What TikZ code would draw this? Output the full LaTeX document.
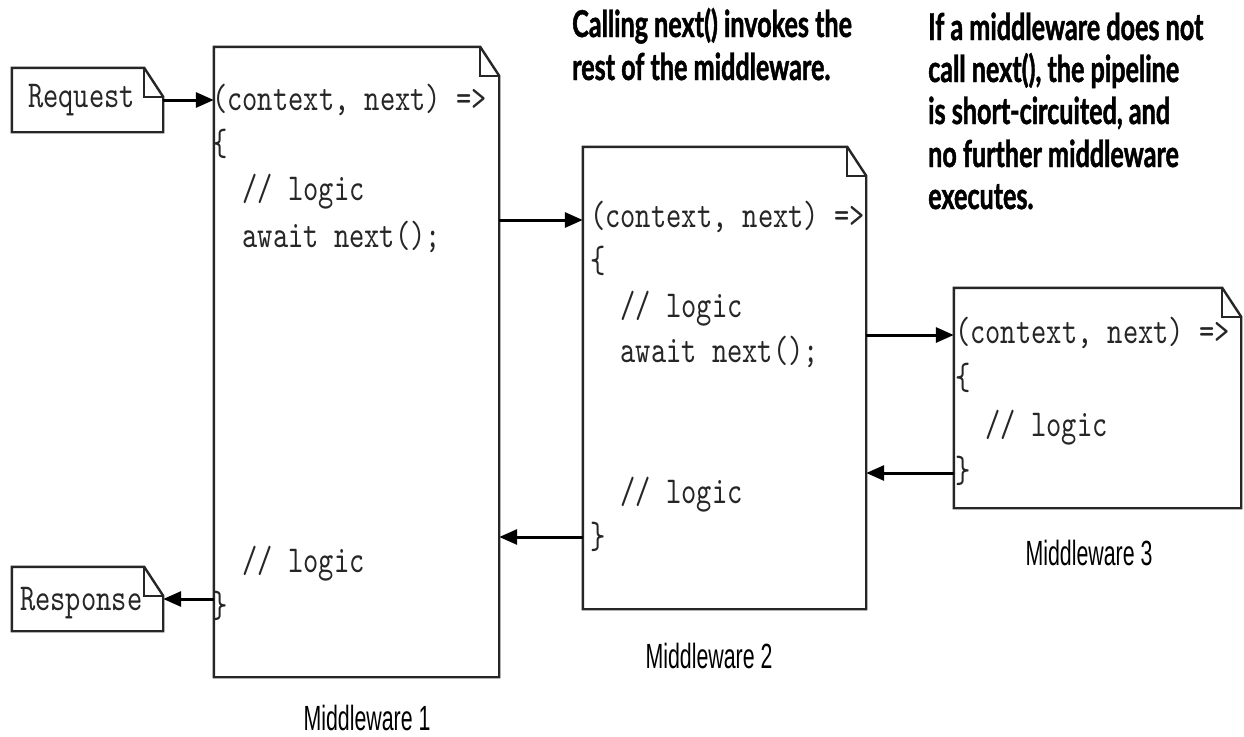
\documentclass[tikz,border=0pt]{standalone}
\usepackage{fontspec}
\usetikzlibrary{arrows.meta}
\newfontfamily\codefont{lmmono10-regular.otf}[FakeStretch=0.765]
\newfontfamily\labfont{Liberation Sans}[FakeStretch=0.61]
\newfontfamily\notefont{Lato}[FakeStretch=0.68,FakeBold=1.2]
\newcommand\docoutline[1]{%
  \draw[boxline] (#1.south west) -- (#1.north west) -- ([xshift=-19pt]#1.north east)
    -- ([yshift=-29pt]#1.north east) -- (#1.south east) -- cycle;
  \draw[boxline] ([xshift=-19pt]#1.north east) |- ([yshift=-29pt]#1.north east);}
\tikzset{
  boxline/.style={line width=2.4pt, line join=miter, draw=black!85},
  arr/.style={line width=3pt, -{Triangle[length=18pt,width=15pt]}},
  code/.style={font=\codefont\fontsize{38}{38}\selectfont, inner sep=0pt, anchor=base west, text=black!85},
  lab/.style={font=\labfont\fontsize{35}{35}\selectfont, inner sep=0pt, anchor=base},
  note/.style={font=\notefont\bfseries\fontsize{37}{37}\selectfont, inner sep=0pt, anchor=base west},
  doc/.style={rectangle, inner sep=0pt, draw=none}
}
\begin{document}
\begin{tikzpicture}[x=1pt,y=-1pt]
\useasboundingbox (0,0) rectangle (1244,736);
\fill[white] (0,0) rectangle (1244,736);
% document boxes
\node[doc, minimum width=151pt, minimum height=64pt] (req) at (87.5,100) {};
\node[doc, minimum width=151pt, minimum height=64pt] (resp) at (87.5,599) {};
\node[doc, minimum width=285pt, minimum height=630pt] (m1) at (356.5,362) {};
\node[doc, minimum width=283pt, minimum height=462pt] (m2) at (724.5,378) {};
\node[doc, minimum width=287pt, minimum height=220pt] (m3) at (1097.5,398) {};
\docoutline{req}
\docoutline{resp}
\docoutline{m1}
\docoutline{m2}
\docoutline{m3}
% texts in small boxes
\node[code] (reqt) at (28,107) {Request};
\node[code] (respt) at (20,610) {Response};
% middleware 1 code
\node[code] (a1) at (212,110) {(context, next) =>};
\node[code] (a2) at (212,155) {\{};
\node[code] (a3) at (242.4,200) {// logic};
\node[code] (a4) at (242.4,247) {await next();};
\node[code] (a5) at (242.4,572) {// logic};
\node[code] (a6) at (212,617) {\}};
% middleware 2 code
\node[code] (b1) at (590,227) {(context, next) =>};
\node[code] (b2) at (590,272) {\{};
\node[code] (b3) at (620.4,317) {// logic};
\node[code] (b4) at (620.4,362) {await next();};
\node[code] (b5) at (620.4,503) {// logic};
\node[code] (b6) at (590,548) {\}};
% middleware 3 code
\node[code] (c1) at (955,343) {(context, next) =>};
\node[code] (c2) at (955,389) {\{};
\node[code] (c3) at (985.4,436) {// logic};
\node[code] (c4) at (955,482) {\}};
% labels
\node[lab] (l1) at (367,730) {Middleware 1};
\node[lab] (l2) at (709,668) {Middleware 2};
\node[lab] (l3) at (1089,565) {Middleware 3};
% notes
\node[note] (n1a) at (572,37) {Calling next() invokes the};
\node[note] (n1b) at (572,80) {rest of the middleware.};
\node[note] (n2a) at (928,40) {If a middleware does not};
\node[note] (n2b) at (928,82) {call next(), the pipeline};
\node[note] (n2c) at (928,124) {is short-circuited, and};
\node[note] (n2d) at (928,167) {no further middleware};
\node[note] (n2e) at (928,209) {executes.};
% arrows
\draw[arr] (req.east) -- (req.east -| m1.west);
\draw[arr] (m1.east |- 0,220) -- (m2.west |- 0,220);
\draw[arr] (m2.east |- 0,335) -- (m3.west |- 0,335);
\draw[arr] (m3.west |- 0,473) -- (m2.east |- 0,473);
\draw[arr] (m2.west |- 0,537) -- (m1.east |- 0,537);
\draw[arr] (m1.west |- resp.east) -- (resp.east);
\end{tikzpicture}
\end{document}
